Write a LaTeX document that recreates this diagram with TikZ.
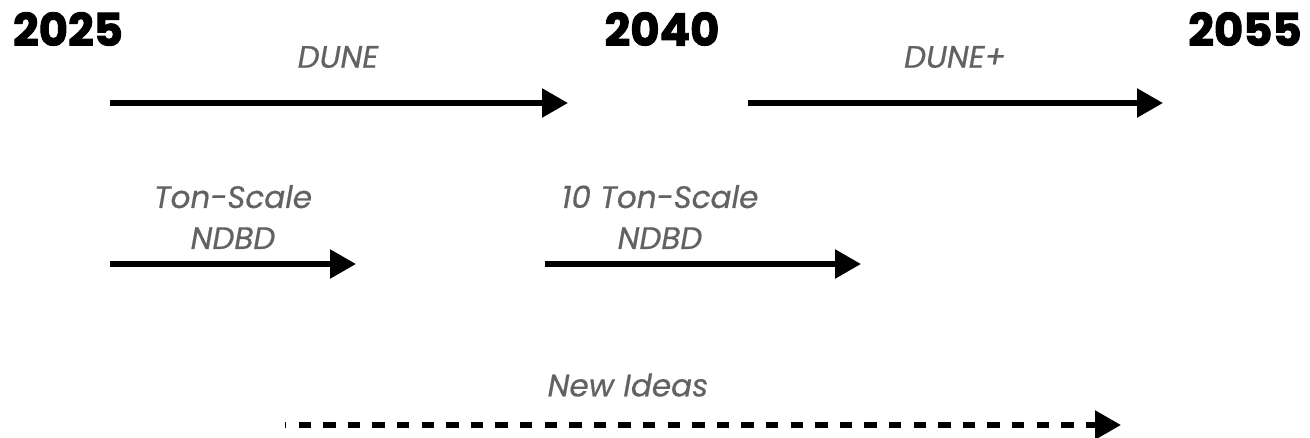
\documentclass[tikz,border=0pt]{standalone}
\usepackage{fontspec}
\setmainfont{Poppins}
\newfontfamily\yearfont{Poppins}[UprightFeatures={FakeBold=2}, BoldFeatures={FakeBold=2}]
\newfontfamily\labelfont{Poppins}[ItalicFeatures={FakeBold=0.6}]
\usetikzlibrary{arrows.meta}
\definecolor{labelgray}{HTML}{626262}
\begin{document}
\begin{tikzpicture}[x=1pt,y=-1pt,
  year/.style={font=\fontsize{45}{45}\selectfont\yearfont\bfseries, text=black, inner sep=0pt},
  lbl/.style={font=\fontsize{31}{41}\selectfont\labelfont\itshape, text=labelgray, align=center, inner sep=0pt},
  span/.style={line width=5.5pt, -{Triangle[length=26pt,width=28pt]}},
  dashspan/.style={span, dash pattern=on 12.3pt off 12.3pt, dash phase=11pt}]
  \useasboundingbox (0,0) rectangle (1310,437);

  % years
  \node[year] (y1) at (68,29) {2025};
  \node[year] (y2) at (662,29) {2040};
  \node[year] (y3) at (1245,29) {2055};

  % arrow end points
  \coordinate (a1) at (110,103);  \coordinate (b1) at (568,103);
  \coordinate (a2) at (748,103);  \coordinate (b2) at (1163,103);
  \coordinate (a3) at (110,264);  \coordinate (b3) at (356,264);
  \coordinate (a4) at (545,264);  \coordinate (b4) at (861,264);
  \coordinate (a5) at (285,425);  \coordinate (b5) at (1121,425);

  \draw[span] (a1) -- (b1);
  \draw[span] (a2) -- (b2);
  \draw[span] (a3) -- (b3);
  \draw[span] (a4) -- (b4);
  \draw[dashspan] (a5) -- (b5);

  % labels
  \node[lbl] (l1) at (338,57) {DUNE};
  \node[lbl] (l2) at (955,57) {DUNE+};
  \node[lbl] (l3) at (233,217) {Ton-Scale\\NDBD};
  \node[lbl] (l4) at (660,217) {10 Ton-Scale\\NDBD};
  \node[lbl] (l5) at (628,385) {New Ideas};
\end{tikzpicture}
\end{document}
